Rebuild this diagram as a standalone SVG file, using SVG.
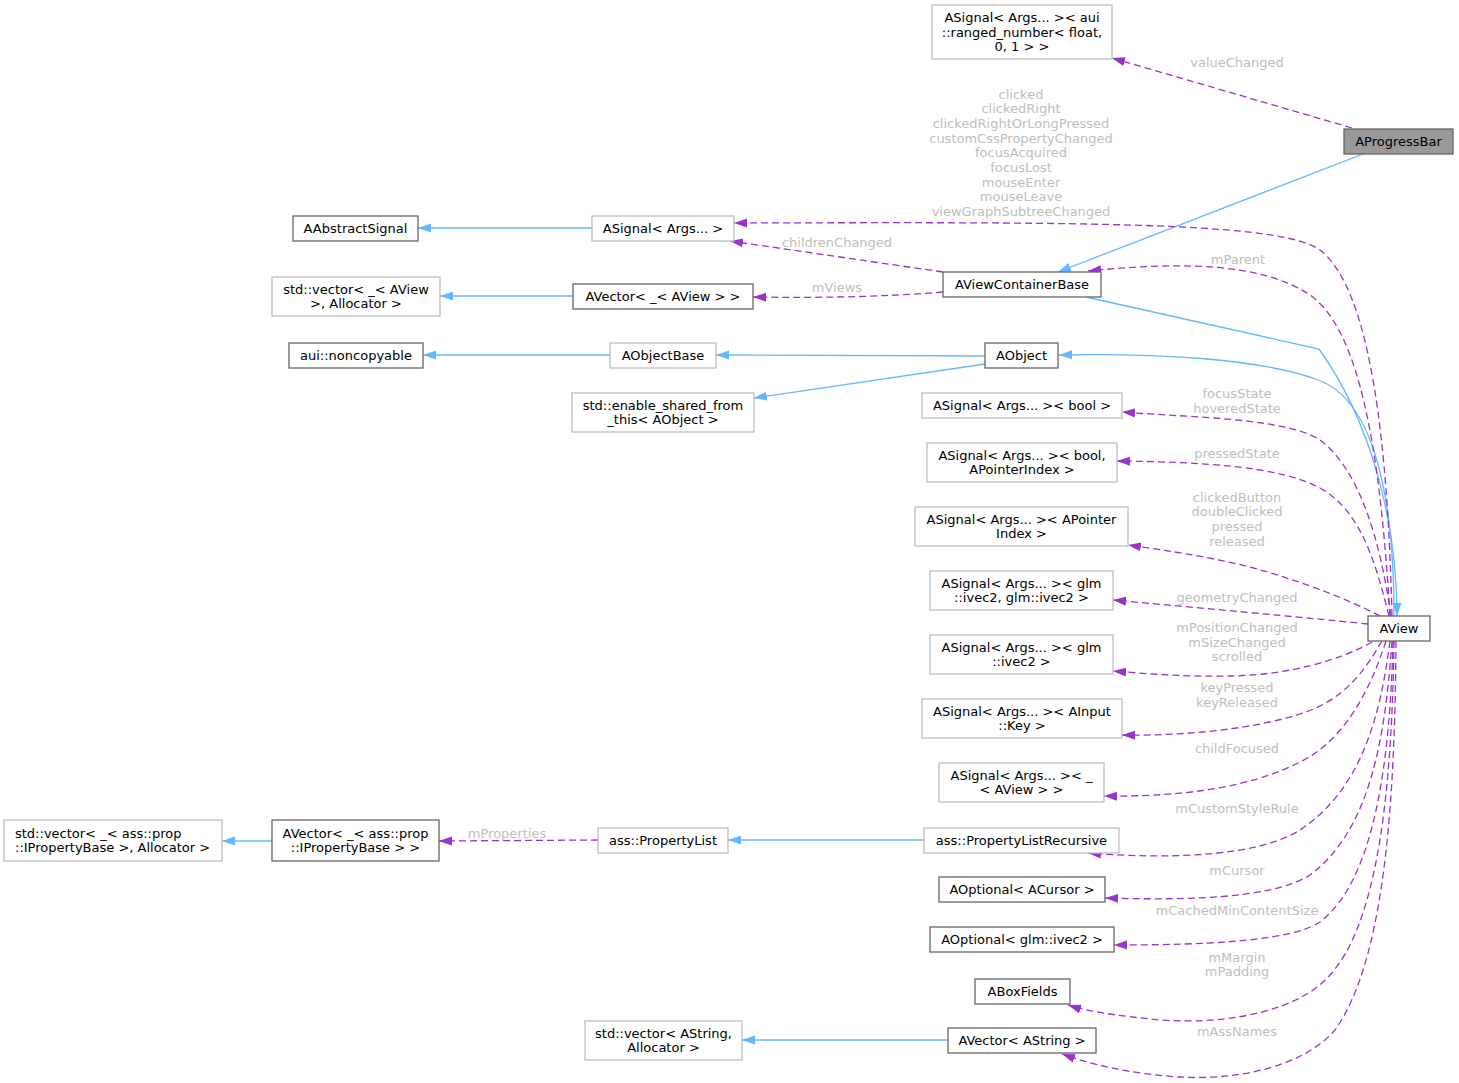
<svg xmlns="http://www.w3.org/2000/svg" width="1459" height="1083" viewBox="0 0 1459 1083">
<style>
text{font-family:"DejaVu Sans","Liberation Sans",sans-serif;font-size:13px;}
.n text{fill:#000;text-anchor:middle;}
.lt rect{fill:#fff;stroke:#bfbfbf;stroke-width:1.3;}
.dk rect{fill:#fff;stroke:#666666;stroke-width:1.3;}
.cur rect{fill:#999999;stroke:#666666;stroke-width:1.3;}
.inh{fill:none;stroke:#63b8ff;stroke-width:1.3;marker-end:url(#ah);}
.use{fill:none;stroke:#9a32cd;stroke-width:1.3;stroke-dasharray:7,4;marker-end:url(#au);}
.lbl{fill:#bebebe;text-anchor:middle;}
</style>
<defs>
<marker id="ah" markerUnits="userSpaceOnUse" markerWidth="14" markerHeight="11" refX="13" refY="5" orient="auto"><path d="M0,0.5 L13,5 L0,9.5 z" fill="#63b8ff"/></marker>
<marker id="au" markerUnits="userSpaceOnUse" markerWidth="14" markerHeight="11" refX="13" refY="5" orient="auto"><path d="M0,0.5 L13,5 L0,9.5 z" fill="#9a32cd"/></marker>
</defs>
<rect width="1459" height="1083" fill="#fff"/>

<g id="edges">
<path class="inh" d="M1363,154 L1058,272"/>
<path class="inh" d="M1086,297 L1319,349 C1370,420 1397,520 1397,616"/>
<path class="inh" d="M1394,616 C1394,500 1375,400 1318,380 C1260,358 1150,353 1059,355"/>
<path class="inh" d="M985,356 L716,355"/>
<path class="inh" d="M985,364 L754,398"/>
<path class="inh" d="M610,355 L423,355"/>
<path class="inh" d="M592,228 L418,228"/>
<path class="inh" d="M573,296 L440,296"/>
<path class="inh" d="M924,840 L728,840"/>
<path class="inh" d="M272,841 L222,841"/>
<path class="inh" d="M948,1040 L742,1040"/>

<path class="use" d="M1352,128 L1112,58"/>
<path class="use" d="M1392,616 C1388,450 1372,290 1320,250 C1280,222 1100,222 734,223"/>
<path class="use" d="M943,272 L730,241"/>
<path class="use" d="M943,292 C880,297 820,298 753,297"/>
<path class="use" d="M1390,616 C1380,450 1360,330 1310,295 C1260,262 1180,262 1088,271"/>
<path class="use" d="M1391,616 C1380,540 1360,470 1320,440 C1285,418 1200,418 1122,412"/>
<path class="use" d="M1389,616 C1375,560 1360,510 1320,488 C1280,466 1200,462 1117,461"/>
<path class="use" d="M1380,616 C1340,595 1290,578 1250,567 C1210,557 1170,551 1128,545"/>
<path class="use" d="M1368,624 C1300,617 1200,608 1113,600"/>
<path class="use" d="M1372,642 C1340,660 1290,675 1230,676 C1190,677 1150,674 1113,671"/>
<path class="use" d="M1382,641 C1365,670 1345,700 1300,714 C1250,730 1180,736 1122,735"/>
<path class="use" d="M1386,641 C1370,690 1345,740 1300,762 C1250,788 1180,797 1104,796"/>
<path class="use" d="M1390,641 C1380,720 1360,790 1300,830 C1260,855 1180,860 1088,853"/>
<path class="use" d="M1392,641 C1385,740 1370,830 1310,875 C1270,900 1180,900 1105,898"/>
<path class="use" d="M1393,641 C1390,760 1375,880 1320,922 C1290,942 1200,945 1114,945"/>
<path class="use" d="M1394,641 C1392,780 1380,920 1330,975 C1300,1010 1230,1025 1160,1020 C1120,1016 1090,1012 1068,1005"/>
<path class="use" d="M1396,641 C1395,800 1385,960 1335,1030 C1300,1070 1230,1080 1180,1077 C1130,1074 1090,1064 1062,1054"/>
<path class="use" d="M598,840 L439,841"/>

<text class="lbl" x="1237" y="67">valueChanged</text>
<text class="lbl" x="1021" y="98.5">clicked</text>
<text class="lbl" x="1021" y="113.2">clickedRight</text>
<text class="lbl" x="1021" y="127.9">clickedRightOrLongPressed</text>
<text class="lbl" x="1021" y="142.6">customCssPropertyChanged</text>
<text class="lbl" x="1021" y="157.3">focusAcquired</text>
<text class="lbl" x="1021" y="172">focusLost</text>
<text class="lbl" x="1021" y="186.7">mouseEnter</text>
<text class="lbl" x="1021" y="201.4">mouseLeave</text>
<text class="lbl" x="1021" y="216.1">viewGraphSubtreeChanged</text>
<text class="lbl" x="837" y="246.5">childrenChanged</text>
<text class="lbl" x="837" y="291.5">mViews</text>
<text class="lbl" x="1238" y="263.5">mParent</text>
<text class="lbl" x="1237" y="397.5">focusState</text>
<text class="lbl" x="1237" y="412.5">hoveredState</text>
<text class="lbl" x="1237" y="457.5">pressedState</text>
<text class="lbl" x="1237" y="501.5">clickedButton</text>
<text class="lbl" x="1237" y="515.5">doubleClicked</text>
<text class="lbl" x="1237" y="530.5">pressed</text>
<text class="lbl" x="1237" y="545.5">released</text>
<text class="lbl" x="1237" y="601.5">geometryChanged</text>
<text class="lbl" x="1237" y="631.5">mPositionChanged</text>
<text class="lbl" x="1237" y="646.5">mSizeChanged</text>
<text class="lbl" x="1237" y="660.5">scrolled</text>
<text class="lbl" x="1237" y="691.5">keyPressed</text>
<text class="lbl" x="1237" y="706.5">keyReleased</text>
<text class="lbl" x="1237" y="752.5">childFocused</text>
<text class="lbl" x="1237" y="812.5">mCustomStyleRule</text>
<text class="lbl" x="1237" y="874.5">mCursor</text>
<text class="lbl" x="1237" y="914.5">mCachedMinContentSize</text>
<text class="lbl" x="1237" y="961.5">mMargin</text>
<text class="lbl" x="1237" y="975.5">mPadding</text>
<text class="lbl" x="1237" y="1035.5">mAssNames</text>
<text class="lbl" x="507" y="837.5">mProperties</text>
</g>

<g id="AProgressBar" class="n cur"><rect x="1344" y="129" width="109" height="25"/><text x="1398.5" y="146">AProgressBar</text></g>
<g id="ASignalRanged" class="n lt"><rect x="932" y="5" width="180" height="54"/><text x="1022" y="22">ASignal&lt; Args... &gt;&lt; aui</text><text x="1022" y="36.5">::ranged_number&lt; float,</text><text x="1022" y="51">0, 1 &gt; &gt;</text></g>
<g id="AAbstractSignal" class="n dk"><rect x="293" y="216" width="125" height="25"/><text x="355.5" y="233">AAbstractSignal</text></g>
<g id="ASignal" class="n lt"><rect x="592" y="216" width="142" height="25"/><text x="663" y="233">ASignal&lt; Args... &gt;</text></g>
<g id="StdVectorAView" class="n lt"><rect x="272" y="277" width="168" height="39"/><text x="356" y="293.5">std::vector&lt; _&lt; AView</text><text x="356" y="308">&gt;, Allocator &gt;</text></g>
<g id="AVectorAView" class="n dk"><rect x="573" y="284" width="180" height="25"/><text x="663" y="301">AVector&lt; _&lt; AView &gt; &gt;</text></g>
<g id="noncopyable" class="n dk"><rect x="289" y="343" width="134" height="25"/><text x="356" y="360">aui::noncopyable</text></g>
<g id="AObjectBase" class="n lt"><rect x="610" y="343" width="106" height="25"/><text x="663" y="360">AObjectBase</text></g>
<g id="EnableShared" class="n lt"><rect x="572" y="393" width="182" height="39"/><text x="663" y="409.5">std::enable_shared_from</text><text x="663" y="424">_this&lt; AObject &gt;</text></g>
<g id="AViewContainerBase" class="n dk"><rect x="943" y="272" width="158" height="25"/><text x="1022" y="289">AViewContainerBase</text></g>
<g id="AObject" class="n dk"><rect x="985" y="343" width="73" height="25"/><text x="1021.5" y="360">AObject</text></g>
<g id="ASignalBool" class="n lt"><rect x="922" y="393" width="200" height="25"/><text x="1022" y="410">ASignal&lt; Args... &gt;&lt; bool &gt;</text></g>
<g id="ASignalBoolPtr" class="n lt"><rect x="927" y="443" width="190" height="39"/><text x="1022" y="459.5">ASignal&lt; Args... &gt;&lt; bool,</text><text x="1022" y="474">APointerIndex &gt;</text></g>
<g id="ASignalPtr" class="n lt"><rect x="915" y="507" width="213" height="39"/><text x="1021.5" y="523.5">ASignal&lt; Args... &gt;&lt; APointer</text><text x="1021.5" y="538">Index &gt;</text></g>
<g id="ASignalIvec2x2" class="n lt"><rect x="930" y="571" width="183" height="39"/><text x="1021.5" y="587.5">ASignal&lt; Args... &gt;&lt; glm</text><text x="1021.5" y="602">::ivec2, glm::ivec2 &gt;</text></g>
<g id="ASignalIvec2" class="n lt"><rect x="930" y="635" width="183" height="39"/><text x="1021.5" y="651.5">ASignal&lt; Args... &gt;&lt; glm</text><text x="1021.5" y="666">::ivec2 &gt;</text></g>
<g id="ASignalKey" class="n lt"><rect x="922" y="699" width="200" height="39"/><text x="1022" y="715.5">ASignal&lt; Args... &gt;&lt; AInput</text><text x="1022" y="730">::Key &gt;</text></g>
<g id="ASignalView" class="n lt"><rect x="939" y="763" width="165" height="39"/><text x="1021.5" y="779.5">ASignal&lt; Args... &gt;&lt; _</text><text x="1021.5" y="794">&lt; AView &gt; &gt;</text></g>
<g id="PropertyListRecursive" class="n lt"><rect x="924" y="828" width="195" height="25"/><text x="1021.5" y="845">ass::PropertyListRecursive</text></g>
<g id="AOptionalCursor" class="n dk"><rect x="939" y="877" width="166" height="25"/><text x="1022" y="894">AOptional&lt; ACursor &gt;</text></g>
<g id="AOptionalIvec2" class="n dk"><rect x="930" y="927" width="184" height="25"/><text x="1022" y="944">AOptional&lt; glm::ivec2 &gt;</text></g>
<g id="ABoxFields" class="n dk"><rect x="975" y="979" width="95" height="25"/><text x="1022.5" y="996">ABoxFields</text></g>
<g id="AVectorAString" class="n dk"><rect x="948" y="1028" width="148" height="25"/><text x="1022" y="1045">AVector&lt; AString &gt;</text></g>
<g id="AView" class="n dk"><rect x="1368" y="616" width="62" height="25"/><text x="1399" y="633">AView</text></g>
<g id="StdVectorProp" class="n lt"><rect x="4" y="820" width="218" height="41"/><text x="15" y="837.5" style="text-anchor:start">std::vector&lt; _&lt; ass::prop</text><text x="15" y="852" style="text-anchor:start">::IPropertyBase &gt;, Allocator &gt;</text></g>
<g id="AVectorProp" class="n dk"><rect x="272" y="820" width="167" height="41"/><text x="355.5" y="837.5">AVector&lt; _&lt; ass::prop</text><text x="355.5" y="852">::IPropertyBase &gt; &gt;</text></g>
<g id="PropertyList" class="n lt"><rect x="598" y="828" width="130" height="25"/><text x="663" y="845">ass::PropertyList</text></g>
<g id="StdVectorAString" class="n lt"><rect x="585" y="1021" width="157" height="39"/><text x="663.5" y="1037.5">std::vector&lt; AString,</text><text x="663.5" y="1052">Allocator &gt;</text></g>
</svg>
